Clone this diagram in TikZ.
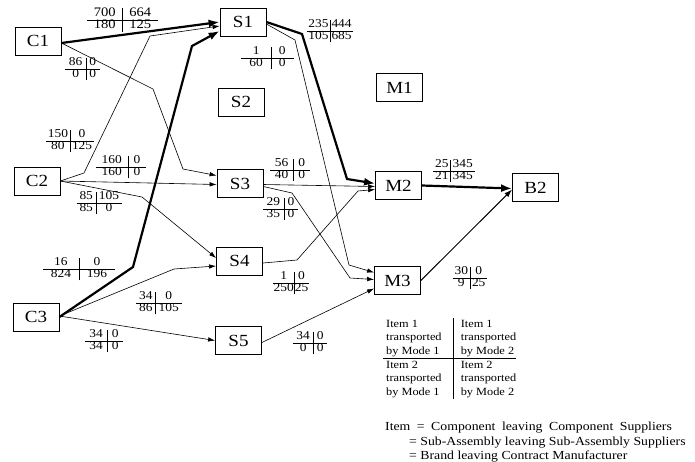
\documentclass[tikz,border=0pt]{standalone}
\usepackage{fontspec}
\setmainfont{Liberation Serif}[FakeStretch=1.12]
\usetikzlibrary{arrows.meta}
\newcommand\qtab[4]{\begin{tabular}{c|c}#1&#2\\\hline#3&#4\end{tabular}}
\begin{document}
\begin{tikzpicture}[x=1pt,y=-1pt,
  box/.style={draw,line width=0.8pt,minimum width=46pt,minimum height=28pt,inner sep=0pt,font=\fontsize{17}{18}\selectfont},
  qt/.style={inner sep=0pt,font=\fontsize{12}{13}\selectfont,execute at begin node={\setlength\tabcolsep{#1pt}\renewcommand\arraystretch{0.8}}},
  qt/.default=2,
  flow/.style={line width=0.6pt,-{Latex[length=7pt,width=4.5pt]}},
  mid/.style={line width=1pt,-{Latex[length=8pt,width=5.5pt]}},
  heavy/.style={line width=2.2pt,-{Latex[length=11pt,width=8pt]}},
  desc/.style={anchor=base west,inner sep=0pt,font=\fontsize{12.3}{15}\selectfont}
]
\fill[white] (0,0) rectangle (695,461);
\useasboundingbox (0,0) rectangle (695,461);

% nodes
\node[box] (C1) at (38,41) {C1};
\node[box] (C2) at (37,181) {C2};
\node[box] (C3) at (36,317) {C3};
\node[box] (S1) at (243,22) {S1};
\node[box] (S2) at (241,102) {S2};
\node[box] (S3) at (240,183.5) {S3};
\node[box] (S4) at (239.5,261) {S4};
\node[box] (S5) at (238.5,340.5) {S5};
\node[box] (M1) at (399.5,87.5) {M1};
\node[box] (M2) at (398.5,185.5) {M2};
\node[box] (M3) at (397.5,280.5) {M3};
\node[box] (B2) at (535.5,187.5) {B2};

% connectors
\draw[heavy] ([yshift=-2pt]C1.east) -- (S1.west);
\draw[flow] ([yshift=-2pt]C1.east) -- (153,89) -- (183,169) -- ([yshift=8pt]S3.west);
\draw[flow] (C2.east) -- (84,173) -- (150,36) -- ([yshift=-4pt]S1.west);
\draw[flow] (C2.east) -- ([yshift=-1pt]S3.west);
\draw[flow] (C2.east) -- (142,197) -- ([yshift=3pt]S4.west);
\draw[heavy] (C3.east) -- (133,267) -- (192,46) -- ([yshift=-9pt]S1.west);
\draw[flow] ([yshift=1pt]C3.east) -- (174,269) -- ([yshift=-5pt]S4.west);
\draw[flow] ([yshift=1pt]C3.east) -- (S5.west);
\draw[heavy] (S1.east) -- (302,34) -- (347,179) -- ([yshift=2pt]M2.west);
\draw[flow] ([yshift=-2pt]S1.east) -- (295,40) -- (349,265) -- ([yshift=8pt]M3.west);
\draw[flow] ([yshift=-1pt]S3.east) -- ([yshift=-1pt]M2.west);
\draw[flow] ([yshift=-3pt]S3.east) -- (292,193) -- (350,278) -- ([yshift=1pt]M3.west);
\draw[flow] ([yshift=-2pt]S4.east) -- (297,260) -- (358,191) -- ([yshift=-4pt]M2.west);
\draw[flow] ([yshift=-2pt]S5.east) -- ([yshift=-8pt]M3.west);
\draw[heavy] (M2.east) -- ([yshift=-1pt]B2.west);
\draw[mid] (M3.east) -- ([yshift=-2pt]B2.west);

% quantity tables
\node[qt=6.8,font=\fontsize{13}{14}\selectfont] (t1) at (122.5,20) {\qtab{700}{664}{180}{125}};
\node[qt=3.5] (t2) at (82.5,69) {\qtab{86}{0}{0}{0}};
\node[qt=2] (t3) at (70,141) {\qtab{150}{0}{80}{125}};
\node[qt=6] (t4) at (121,167) {\qtab{160}{0}{160}{0}};
\node[qt=3] (t5) at (99.3,203) {\qtab{85}{105}{85}{0}};
\node[qt=8] (t6) at (79,269) {\qtab{16}{0}{824}{196}};
\node[qt=3] (t7) at (159,303) {\qtab{34}{0}{86}{105}};
\node[qt=4.5] (t8) at (104,341) {\qtab{34}{0}{34}{0}};
\node[qt=8] (t9) at (267.5,58) {\qtab{1}{0}{60}{0}};
\node[qt=1.5] (t10) at (330,31) {\qtab{235}{444}{105}{685}};
\node[qt=5] (t11) at (290,170) {\qtab{56}{0}{40}{0}};
\node[qt=3.7] (t12) at (280.5,209) {\qtab{29}{0}{35}{0}};
\node[qt=2] (t13) at (454,171) {\qtab{25}{345}{21}{345}};
\node[qt=0.5] (t14) at (291,283) {\qtab{1}{0}{250}{25}};
\node[qt=3.5] (t15) at (310,343) {\qtab{34}{0}{0}{0}};
\node[qt=2] (t16) at (470,278) {\qtab{30}{0}{9}{25}};

% legend
\node[anchor=north west,inner sep=0pt,font=\fontsize{11}{13.5}\selectfont] (leg) at (383,317.5)
 {\begin{tabular}{@{\hspace{3pt}}l@{\hspace{12pt}}|@{\hspace{7pt}}l@{}}
  Item 1 & Item 1\\
  transported & transported\\
  by Mode 1 & by Mode 2\\\hline
  Item 2 & Item 2\\
  transported & transported\\
  by Mode 1 & by Mode 2
  \end{tabular}};
\node[desc] (d1) at (385,430) {\spaceskip=6.5pt Item = Component leaving Component Suppliers};
\node[desc] (d2) at (409,445) {= Sub-Assembly leaving Sub-Assembly Suppliers};
\node[desc] (d3) at (409,459) {= Brand leaving Contract Manufacturer};
\end{tikzpicture}
\end{document}
